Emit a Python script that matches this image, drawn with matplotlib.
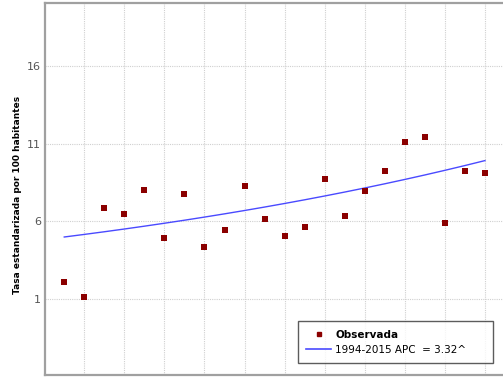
import numpy as np
import matplotlib
matplotlib.use("Agg")
import matplotlib.pyplot as plt
from matplotlib.lines import Line2D

years = np.arange(1994, 2016)
observed = [2.07, 1.15, 6.84, 6.47, 8.04, 4.93, 7.74, 4.35, 5.46, 8.30, 6.15,
            5.08, 5.64, 8.71, 6.36, 7.97, 9.24, 11.11, 11.41, 5.91, 9.24, 9.13]
apc = 3.32          # annual percent change of the joinpoint segment
fit_start = 4.99    # modelled rate in the first year
y_ticks = [1, 6, 11, 16]
x_grid = np.arange(1995, 2016, 2)

fitted = fit_start * (1 + apc / 100) ** (years - years[0])

fig = plt.figure(figsize=(5.03, 3.77), dpi=100)
ax = fig.add_axes([0.0895, 0.005, 0.9105, 0.987])

ax.plot(years, fitted, color="#4a4aff", lw=1.0, zorder=3)
ax.scatter(years, observed, marker="s", s=16, color="#8b0000", zorder=4,
           linewidths=0)

ax.set_xlim(1993.04, 2015.9)
ax.set_ylim(-3.9, 20.05)
ax.set_yticks(y_ticks)
ax.set_yticklabels([str(v) for v in y_ticks], fontsize=8, color="#555555")
ax.set_xticks(x_grid)
ax.set_xticklabels([])
ax.tick_params(axis="both", length=0, pad=3)
ax.grid(True, color="#d0d0d0", lw=0.8, ls=(0, (1, 1)))
ax.set_axisbelow(True)

for side in ("left", "bottom", "top"):
    ax.spines[side].set_color("#a0a0a0")
    ax.spines[side].set_linewidth(1.6)
ax.spines["right"].set_visible(False)

ax.set_ylabel("Tasa estandarizada por 100 habitantes", fontsize=6.5,
              fontweight="bold")
ax.yaxis.set_label_coords(-0.05, 0.484)

handles = [
    Line2D([], [], marker="s", ls="none", color="#8b0000", markersize=3.5),
    Line2D([], [], color="#4a4aff", lw=1.2),
]
leg = ax.legend(handles, ["Observada", "1994-2015 APC  = 3.32^"],
                loc="lower left", bbox_to_anchor=(0.552, 0.032, 0.426, 0.116),
                mode="expand", fontsize=7.5, frameon=True, fancybox=False,
                edgecolor="#333333", handlelength=2.4, handletextpad=0.4,
                borderpad=0.8, labelspacing=0.5, borderaxespad=0)
leg.get_frame().set_linewidth(1.0)
leg.get_texts()[0].set_fontweight("bold")

fig.savefig("out.png", dpi=100)
